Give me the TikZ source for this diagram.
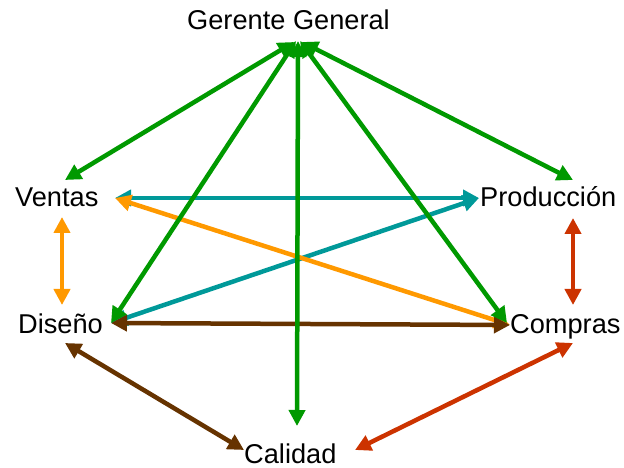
\documentclass[tikz,border=0pt]{standalone}
\usepackage{fontspec}
\setmainfont{Liberation Sans}
\usetikzlibrary{arrows.meta}
\definecolor{cgreen}{HTML}{009900}
\definecolor{cteal}{HTML}{009999}
\definecolor{corange}{HTML}{FF9900}
\definecolor{cbrown}{HTML}{663300}
\definecolor{cred}{HTML}{CC3300}
\begin{document}
\begin{tikzpicture}[x=1bp,y=-1bp,
  lbl/.style={anchor=base west,inner sep=0pt,font=\fontsize{27.3}{32}\selectfont},
  link/.style={line width=4.5bp,{Triangle[length=16bp,width=16bp]}-{Triangle[length=16bp,width=16bp]}}]
\useasboundingbox (0,0) rectangle (624,468);
\node[lbl] (gg) at (187,30) {Gerente General};
\node[lbl] (ve) at (15,207) {Ventas};
\node[lbl] (pr) at (480,207) {Producción};
\node[lbl] (di) at (18,333) {Diseño};
\node[lbl] (co) at (510,333) {Compras};
\node[lbl] (ca) at (244,463) {Calidad};
% endpoints
\coordinate (ggA) at (294,42);
\coordinate (ggB) at (296,41);
\coordinate (ggC) at (298,41);
\coordinate (ggD) at (300,41);
\coordinate (ggE) at (302,42);
\coordinate (veTop) at (65,180);
\coordinate (veR) at (115,198);
\coordinate (veB) at (62,217);
\coordinate (prTop) at (573,180);
\coordinate (prL) at (479,198);
\coordinate (prB) at (573,218);
\coordinate (diR) at (111,323);
\coordinate (diT) at (62,305);
\coordinate (diB) at (65,343);
\coordinate (coL) at (510,325);
\coordinate (coTg) at (507,323);
\coordinate (coT) at (573,305);
\coordinate (coB) at (573,343);
\coordinate (caT) at (297,426);
\coordinate (caL) at (244,450);
\coordinate (caR) at (355,450);
% teal
\draw[link,cteal] (veR) -- (prL);
\draw[link,cteal] (diR) -- (prL);
% orange
\draw[link,corange] (veR) -- (coL);
\draw[link,corange] (veB) -- (diT);
% brown
\draw[link,cbrown] (diR) -- (coL);
\draw[link,cbrown] (diB) -- (caL);
% red
\draw[link,cred] (prB) -- (coT);
\draw[link,cred] (coB) -- (caR);
% green
\draw[link,cgreen] (ggA) -- (veTop);
\draw[link,cgreen] (ggB) -- (diR);
\draw[link,cgreen] (ggC) -- (caT);
\draw[link,cgreen] (ggD) -- (coTg);
\draw[link,cgreen] (ggE) -- (prTop);
\end{tikzpicture}
\end{document}
